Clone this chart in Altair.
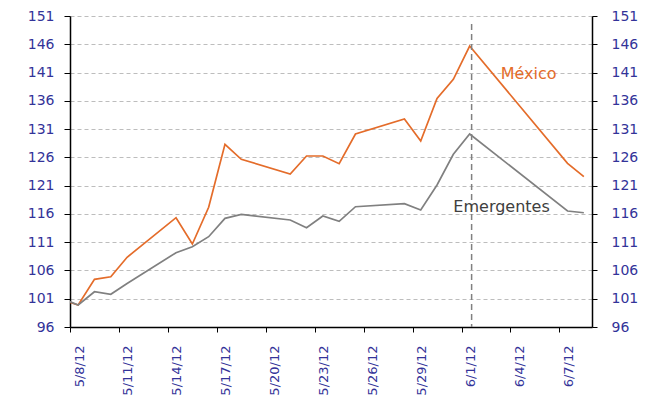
import datetime as dt
import altair as alt
import pandas as pd

# ---- data ----
dates = ["2012-05-07", "2012-05-08", "2012-05-09", "2012-05-10", "2012-05-11",
         "2012-05-14", "2012-05-15", "2012-05-16", "2012-05-17", "2012-05-18",
         "2012-05-21", "2012-05-22", "2012-05-23", "2012-05-24", "2012-05-25",
         "2012-05-28", "2012-05-29", "2012-05-30", "2012-05-31", "2012-06-01",
         "2012-06-07", "2012-06-08"]
mexico = [100.85, 99.89, 104.43, 104.89, 108.33,
          115.33, 110.68, 117.17, 128.31, 125.66,
          123.06, 126.24, 126.24, 124.88, 130.13,
          132.78, 128.89, 136.44, 139.80, 145.69,
          124.95, 122.58]
emergentes = [101.05, 99.89, 102.24, 101.78, 103.70,
              109.14, 110.20, 111.97, 115.22, 115.93,
              114.92, 113.56, 115.63, 114.69, 117.27,
              117.80, 116.69, 121.11, 126.54, 130.13,
              116.51, 116.21]
x_tick_labels = ["5/8/12", "5/11/12", "5/14/12", "5/17/12", "5/20/12", "5/23/12",
                 "5/26/12", "5/29/12", "6/1/12", "6/4/12", "6/7/12"]
y_ticks = [96, 101, 106, 111, 116, 121, 126, 131, 136, 141, 146, 151]
marker_date = "2012-06-01"
annotations = ["México", "Emergentes"]

start = dt.date(2012, 5, 8)


def day_pos(s):
    d = dt.date.fromisoformat(s)
    return (d - start).days + 0.5  # points sit in the middle of their day


rows = []
for s, m, e in zip(dates, mexico, emergentes):
    rows.append({"x": day_pos(s), "v": m, "serie": "México"})
    rows.append({"x": day_pos(s), "v": e, "serie": "Emergentes"})
df = pd.DataFrame(rows)

FONT = "DejaVu Sans"
BLUE = "#333399"
ORANGE = "#E46C2A"
GRAY = "#808080"

xscale = alt.Scale(domain=[0, 32], nice=False, zero=False)
yscale = alt.Scale(domain=[96, 151], nice=False, zero=False)

label_arr = "[" + ",".join("'%s'" % l for l in x_tick_labels) + "]"
x_axis = alt.Axis(
    values=[3 * i for i in range(len(x_tick_labels))],
    labelExpr=label_arr + "[round(datum.value / 3)]",
    labelAngle=270, labelFont=FONT, labelFontSize=13, labelColor=BLUE,
    labelOffset=9, labelPadding=13, labelOverlap=False, labelFlush=False,
    tickSize=5, tickColor="black",
    domainColor="black", domainWidth=1.5, grid=False, title=None,
)
y_left = alt.Axis(
    values=y_ticks, labelFont=FONT, labelFontSize=14, labelColor=BLUE,
    labelPadding=10, labelOverlap=False, labelFlush=False,
    tickSize=6, tickColor="black", domainColor="black",
    domainWidth=1.5, grid=True, gridColor="#bdbdbd", gridDash=[4, 3],
    gridWidth=1, title=None, orient="left",
)
y_right = alt.Axis(
    values=y_ticks, labelFont=FONT, labelFontSize=14, labelColor=BLUE,
    labelPadding=14, labelOverlap=False, labelFlush=False,
    tickSize=5, tickColor="black", domainColor="black",
    domainWidth=1.5, grid=False, title=None, orient="right",
)

lines = alt.Chart(df).mark_line(strokeWidth=1.7, clip=True).encode(
    x=alt.X("x:Q", scale=xscale, axis=x_axis),
    y=alt.Y("v:Q", scale=yscale, axis=y_left),
    color=alt.Color("serie:N", scale=alt.Scale(domain=["México", "Emergentes"],
                                               range=[ORANGE, GRAY]), legend=None),
)

marker_df = pd.DataFrame({"x": [day_pos(marker_date) + 0.12], "top": [149.6], "bottom": [96]})
marker = alt.Chart(marker_df).mark_rule(
    color=GRAY, strokeDash=[6, 4], strokeWidth=1.5
).encode(
    x=alt.X("x:Q", scale=xscale, axis=x_axis),
    y=alt.Y("top:Q", scale=yscale, axis=y_left),
    y2="bottom:Q",
)

ann_df = pd.DataFrame({"x": [26.4, 23.5], "v": [139.85, 116.25],
                       "t": annotations, "c": [ORANGE, "#404040"]})
texts = alt.Chart(ann_df).mark_text(
    font=FONT, fontSize=16, align="left", baseline="alphabetic"
).encode(
    x=alt.X("x:Q", scale=xscale, axis=x_axis),
    y=alt.Y("v:Q", scale=yscale, axis=y_left),
    text="t:N",
    color=alt.Color("c:N", scale=None),
)

left = alt.layer(lines, marker, texts)

right = alt.Chart(df).mark_point(opacity=0).encode(
    x=alt.X("x:Q", scale=xscale, axis=x_axis),
    y=alt.Y("v:Q", scale=yscale, axis=y_right),
)

chart = alt.layer(left, right).resolve_scale(y="independent").properties(
    width=522, height=311,
    autosize=alt.AutoSizeParams(type="none"),
    padding={"left": 62, "top": 8, "right": 50, "bottom": 69},
).configure(background="white").configure_view(strokeWidth=0)

chart.save("out.html", embed_options={"renderer": "svg", "actions": False})
